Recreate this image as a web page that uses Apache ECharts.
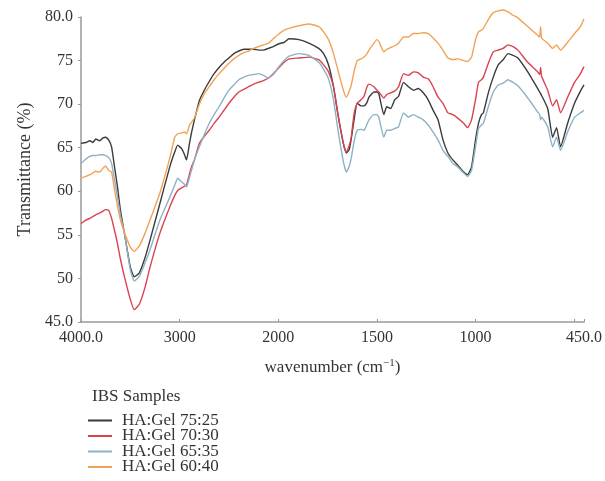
<!DOCTYPE html>
<html>
<head>
<meta charset="utf-8">
<script src="https://cdn.jsdelivr.net/npm/echarts@6/dist/echarts.min.js"></script>
<style>
  html, body { margin: 0; padding: 0; background: #fff; }
  #chart { width: 605px; height: 481px; }
</style>
</head>
<body>
<div id="chart"></div>
<script>
// wavenumber (cm-1), shared by all samples
const wavenumbers = [
  4000, 3950, 3910, 3880, 3850, 3810, 3780, 3750, 3720, 3690,
  3660, 3630, 3600, 3560, 3500, 3460, 3410, 3350, 3300, 3200,
  3100, 3050, 3020, 2980, 2950, 2930, 2900, 2880, 2850, 2800,
  2750, 2700, 2650, 2600, 2550, 2500, 2450, 2400, 2350, 2300,
  2250, 2200, 2150, 2100, 2050, 2000, 1970, 1945, 1895, 1845,
  1795, 1770, 1745, 1720, 1695, 1670, 1655, 1640, 1630, 1615,
  1600, 1580, 1565, 1550, 1540, 1515, 1500, 1490, 1465, 1450,
  1430, 1410, 1390, 1365, 1340, 1315, 1290, 1265, 1240, 1215,
  1190, 1165, 1140, 1115, 1090, 1060, 1040, 1020, 1000, 985,
  970, 960, 935, 910, 885, 860, 835, 810, 785, 735,
  685, 675, 670, 665, 634, 609, 589, 569, 533, 498,
  468, 450
]
// transmittance (%)
const ha7525 = [
  65.5, 65.6, 65.8, 65.6, 66.0, 65.8, 66.1, 66.2, 65.9, 65.1,
  62.8, 60.5, 57.8, 55.2, 51.3, 50.2, 50.6, 52.4, 54.4, 58.6,
  62.8, 64.5, 65.3, 64.9, 64.2, 63.6, 65.5, 66.7, 68.2, 70.4,
  71.6, 72.6, 73.5, 74.2, 74.8, 75.3, 75.8, 76.1, 76.3, 76.3,
  76.3, 76.2, 76.2, 76.4, 76.6, 76.9, 77.1, 77.5, 77.4, 77.0,
  76.4, 75.8, 74.5, 72.0, 68.5, 65.5, 64.4, 64.8, 66.0, 68.3,
  70.1, 69.8, 69.8, 70.2, 70.8, 71.4, 71.4, 71.2, 68.8, 69.7,
  69.5, 70.5, 70.9, 72.5, 72.0, 71.6, 71.8, 71.3, 70.5, 69.3,
  68.2, 65.9, 64.4, 63.6, 63.0, 62.2, 61.9, 62.8, 65.9, 67.8,
  68.8, 69.0, 71.3, 73.1, 74.5, 75.1, 75.8, 75.6, 75.3, 73.7,
  71.8, 71.4, 71.2, 71.0, 69.5, 66.2, 67.3, 65.1, 67.8, 70.1,
  71.5, 72.2
]
const ha7030 = [
  56.3, 56.7, 56.9, 57.1, 57.3, 57.5, 57.7, 57.9, 57.8, 56.9,
  55.5, 54.0, 52.2, 50.2, 47.6, 46.4, 47.0, 49.0, 51.3, 55.2,
  58.2, 59.5, 60.1, 60.4, 60.6, 60.7, 62.0, 62.8, 63.6, 65.5,
  66.3, 67.0, 67.8, 68.5, 69.3, 70.1, 70.8, 71.4, 71.7, 72.0,
  72.3, 72.5, 72.7, 73.0, 73.5, 74.1, 74.8, 75.2, 75.3, 75.4,
  75.1, 74.5, 73.7, 72.0, 68.5, 65.5, 64.5, 65.3, 66.2, 69.0,
  70.1, 70.5, 70.9, 72.0, 72.3, 72.0, 71.6, 71.4, 70.7, 71.1,
  71.3, 71.5, 72.0, 73.5, 73.3, 73.7, 73.6, 73.1, 72.9, 72.0,
  70.8, 70.1, 69.0, 68.8, 68.4, 67.8, 67.3, 68.2, 70.5, 72.5,
  72.8, 73.1, 74.7, 76.0, 76.2, 76.4, 76.8, 76.6, 76.2, 74.8,
  73.7, 73.4, 74.2, 73.2, 71.6, 69.8, 70.5, 69.0, 70.8, 72.5,
  73.5, 74.3
]
const ha6535 = [
  63.2, 63.7, 64.0, 64.1, 64.1, 64.2, 64.2, 64.1, 63.9, 63.2,
  61.3, 59.3, 57.2, 55.2, 51.0, 49.7, 50.2, 51.8, 53.3, 56.7,
  59.3, 60.7, 61.5, 61.1, 60.8, 60.5, 61.6, 62.4, 63.6, 65.1,
  66.5, 67.8, 68.8, 69.7, 70.7, 71.6, 72.2, 72.8, 73.1, 73.3,
  73.4, 73.5, 73.3, 73.0, 73.4, 74.2, 75.0, 75.5, 75.8, 75.6,
  74.8, 74.0, 72.9, 70.5, 66.7, 63.4, 62.2, 62.9, 63.8, 65.8,
  67.0, 67.1, 67.0, 67.7, 68.2, 68.8, 68.8, 68.5, 66.2, 67.0,
  67.0, 67.2, 67.4, 69.0, 68.5, 68.8, 68.5, 68.2, 67.6, 66.8,
  65.9, 64.7, 64.0, 63.2, 62.8, 62.1, 61.7, 62.4, 65.1, 67.2,
  67.6, 67.8, 69.7, 71.4, 72.2, 72.4, 72.8, 72.5, 72.1, 70.7,
  69.1, 68.8, 68.2, 68.5, 67.4, 65.1, 66.2, 64.7, 66.8, 68.5,
  69.0, 69.3
]
const ha6040 = [
  61.5, 61.7, 61.9, 62.1, 62.3, 62.2, 62.6, 62.9, 62.4, 62.2,
  60.2, 58.3, 56.7, 55.3, 53.6, 53.1, 53.7, 55.2, 56.7, 59.8,
  63.8, 66.2, 66.6, 66.7, 66.8, 66.6, 67.6, 67.9, 68.4, 70.0,
  71.2, 72.0, 72.8, 73.5, 74.1, 74.7, 75.2, 75.6, 75.9, 76.1,
  76.4, 76.6, 76.8, 77.0, 77.5, 78.0, 78.5, 78.7, 79.0, 79.2,
  78.9, 78.3, 77.4, 75.8, 73.7, 71.6, 70.8, 71.5, 72.2, 73.8,
  75.0, 75.2, 75.4, 75.8, 76.2, 77.0, 77.4, 77.2, 76.0, 76.3,
  76.5, 76.7, 77.0, 77.7, 77.7, 78.1, 78.1, 78.2, 78.1, 77.6,
  77.0, 76.2, 75.3, 75.1, 75.2, 75.0, 74.9, 75.4, 77.4, 78.3,
  78.5, 78.7, 79.7, 80.5, 80.7, 80.8, 80.6, 80.2, 79.9, 78.9,
  77.9, 77.7, 78.9, 77.6, 77.0, 76.4, 76.8, 76.2, 77.1, 78.1,
  78.9, 79.8
]
const sampleNames = ['HA:Gel 75:25', 'HA:Gel 70:30', 'HA:Gel 65:35', 'HA:Gel 60:40']
const sampleColors = ['#3b3b3b', '#d9434f', '#8db2c6', '#f2a257']
const xTickLabels = { 0: '4000.0', 1000: '3000', 2000: '2000', 3000: '1500', 4000: '1000', 5000: '', 5100: '450.0' }

const FONT = '"Liberation Serif", "DejaVu Serif", serif'

// axis is stretched 2x below 2000 cm-1, like the original spectrum plot
function toAxis(wn) {
  return wn >= 2000 ? 4000 - wn : 2000 + 2 * (2000 - wn)
}

function buildSeries(values, i) {
  return {
    name: sampleNames[i],
    type: 'line',
    data: wavenumbers.map((wn, k) => [toAxis(wn), values[k]]),
    showSymbol: false,
    smooth: 0.15,
    clip: false,
    lineStyle: { color: sampleColors[i], width: 1.4 },
    itemStyle: { color: sampleColors[i] }
  }
}

const chart = echarts.init(document.getElementById('chart'), null, { renderer: 'canvas' })
chart.setOption({
  animation: false,
  backgroundColor: '#fff',
  title: {
    text: 'IBS Samples',
    left: 87,
    top: 383,
    textStyle: { fontFamily: FONT, fontSize: 17, fontWeight: 'normal', color: '#333' }
  },
  legend: {
    orient: 'vertical',
    left: 88,
    top: 412,
    padding: 0,
    itemWidth: 24,
    itemHeight: 2,
    itemGap: -1.5,
    icon: 'rect',
    data: sampleNames,
    textStyle: { fontFamily: FONT, fontSize: 17, color: '#333', lineHeight: 15.5, padding: [0, 0, 0, 5] }
  },
  grid: { left: 81, right: 18, top: 17, bottom: 159 },
  xAxis: {
    type: 'value',
    min: 0,
    max: 5100,
    interval: 1000,
    name: '{t|wavenumber (cm}{s|−1}{t|)}',
    nameLocation: 'middle',
    nameGap: 36,
    nameTextStyle: {
      rich: {
        t: { fontFamily: FONT, fontSize: 17, color: '#333' },
        s: { fontFamily: FONT, fontSize: 11, color: '#333', padding: [0, 0, 9, 0] }
      }
    },
    axisLine: { lineStyle: { color: '#9a9a9a', width: 1.5 } },
    axisTick: { inside: true, length: 3, lineStyle: { color: '#9a9a9a' } },
    splitLine: { show: false },
    axisLabel: {
      fontFamily: FONT,
      fontSize: 16,
      color: '#333',
      margin: 8,
      showMinLabel: true,
      showMaxLabel: true,
      formatter: v => xTickLabels[v] ?? ''
    }
  },
  yAxis: {
    type: 'value',
    min: 45,
    max: 80,
    interval: 5,
    name: 'Transmittance (%)',
    nameLocation: 'middle',
    nameGap: 45,
    nameTextStyle: { fontFamily: FONT, fontSize: 18, color: '#333' },
    axisLine: { show: true, lineStyle: { color: '#9a9a9a', width: 1.5 } },
    axisTick: { show: true, length: 3, lineStyle: { color: '#9a9a9a' } },
    splitLine: { show: false },
    axisLabel: {
      fontFamily: FONT,
      fontSize: 16,
      color: '#333',
      margin: 8,
      formatter: v => (v === 45 || v === 80 ? v.toFixed(1) : String(v))
    }
  },
  series: [ha7525, ha7030, ha6535, ha6040].map(buildSeries)
})
</script>
</body>
</html>
